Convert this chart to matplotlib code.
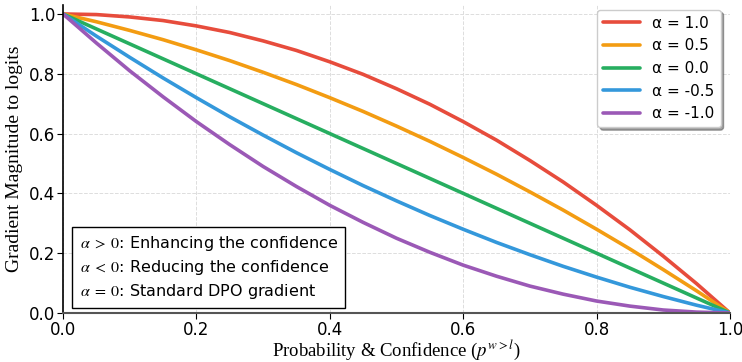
import numpy as np
import matplotlib
matplotlib.use('Agg')
import matplotlib.pyplot as plt

plt.rcParams['mathtext.fontset'] = 'stix'

# probability values (every 0.05)
p = [0.00, 0.05, 0.10, 0.15, 0.20, 0.25, 0.30, 0.35, 0.40, 0.45, 0.50,
     0.55, 0.60, 0.65, 0.70, 0.75, 0.80, 0.85, 0.90, 0.95, 1.00]

grad_a10 = [1.000, 0.998, 0.990, 0.978, 0.960, 0.938, 0.910, 0.878, 0.840, 0.798, 0.750,
            0.698, 0.640, 0.578, 0.510, 0.438, 0.360, 0.278, 0.190, 0.098, 0.000]
grad_a05 = [1.000, 0.974, 0.945, 0.914, 0.880, 0.844, 0.805, 0.764, 0.720, 0.674, 0.625,
            0.574, 0.520, 0.464, 0.405, 0.344, 0.280, 0.214, 0.145, 0.074, 0.000]
grad_a00 = [1.000, 0.950, 0.900, 0.850, 0.800, 0.750, 0.700, 0.650, 0.600, 0.550, 0.500,
            0.450, 0.400, 0.350, 0.300, 0.250, 0.200, 0.150, 0.100, 0.050, 0.000]
grad_am05 = [1.000, 0.926, 0.855, 0.786, 0.720, 0.656, 0.595, 0.536, 0.480, 0.426, 0.375,
             0.326, 0.280, 0.236, 0.195, 0.156, 0.120, 0.086, 0.055, 0.026, 0.000]
grad_am10 = [1.000, 0.903, 0.810, 0.723, 0.640, 0.563, 0.490, 0.423, 0.360, 0.303, 0.250,
             0.203, 0.160, 0.123, 0.090, 0.063, 0.040, 0.023, 0.010, 0.003, 0.000]

series = [grad_a10, grad_a05, grad_a00, grad_am05, grad_am10]
labels = ['α = 1.0', 'α = 0.5', 'α = 0.0', 'α = -0.5', 'α = -1.0']
colors = ['#e74c3c', '#f39c12', '#27ae60', '#3498db', '#9b59b6']

fig = plt.figure(figsize=(7.42, 3.62), dpi=100)
ax = fig.add_axes([63 / 742, 49 / 362, 667 / 742, 308 / 362])

for vals, lab, c in zip(series, labels, colors):
    ax.plot(p, vals, color=c, lw=2.6, label=lab, solid_capstyle='round')

ax.set_xlim(0, 1)
ax.set_ylim(0, 1.03)
ax.set_xticks([0, 0.2, 0.4, 0.6, 0.8, 1.0])
ax.set_yticks([0, 0.2, 0.4, 0.6, 0.8, 1.0])
ax.tick_params(labelsize=12, length=4, pad=1.5)
ax.grid(True, linestyle='--', color='#dddddd', lw=0.7)

ax.spines['top'].set_visible(False)
ax.spines['right'].set_visible(False)
ax.spines['bottom'].set_color('#555555')
ax.spines['bottom'].set_linewidth(1.5)
ax.spines['left'].set_linewidth(1.2)

ax.set_xlabel('Probability & Confidence ($p^{w>l}$)', family='Liberation Serif', fontsize=13.5, labelpad=-1)
ax.set_ylabel('Gradient Magnitude to logits', family='Liberation Serif', fontsize=14, labelpad=4)

leg = ax.legend(loc='upper right', fontsize=11, shadow=True, fancybox=True,
                framealpha=1, handlelength=2.4, borderaxespad=0.3, bbox_to_anchor=(0.993, 1.0))

note = ('$\\alpha \\;>\\; 0$: Enhancing the confidence\n'
        '$\\alpha \\;<\\; 0$: Reducing the confidence\n'
        '$\\alpha \\;=\\; 0$: Standard DPO gradient')
ax.text(0.025, 0.04, note, transform=ax.transAxes, fontsize=11.5, va='bottom', ha='left',
        linespacing=1.35,
        bbox=dict(boxstyle='square,pad=0.45', facecolor='white', edgecolor='black', lw=1.0))

fig.savefig('out.png', dpi=100)
